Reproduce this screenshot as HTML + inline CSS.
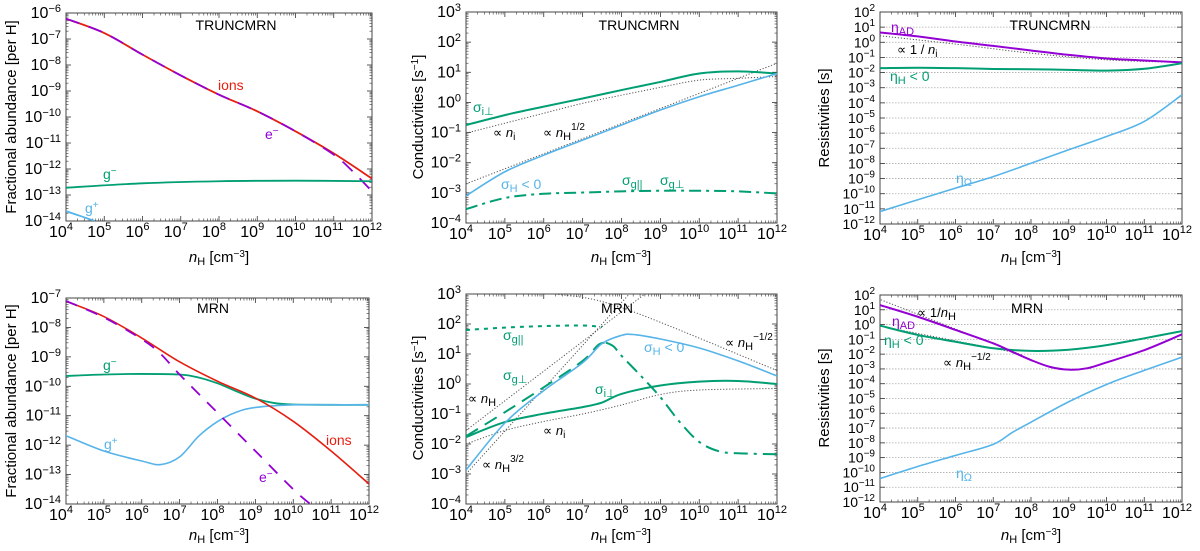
<!DOCTYPE html>
<html><head><meta charset="utf-8">
<style>
html,body{margin:0;padding:0;background:#fff;}
svg{display:block;font-family:"Liberation Sans",sans-serif;}
.t{font-size:16px;fill:#000;}
.lab{font-size:14px;}
.ax{font-size:15px;}
</style></head>
<body>
<svg id="fig" width="1200" height="551" viewBox="0 0 1200 551" xmlns="http://www.w3.org/2000/svg">
<g id="axes"></g>
<g id="curves"></g>
<g id="labels">
  <text class="ax" transform="translate(16,117) rotate(-90)" text-anchor="middle">Fractional abundance [per H]</text>
  <text class="ax" transform="translate(16,401) rotate(-90)" text-anchor="middle">Fractional abundance [per H]</text>
  <text class="ax" transform="translate(423,117) rotate(-90)" text-anchor="middle">Conductivities [s<tspan baseline-shift="super" font-size="10">−1</tspan>]</text>
  <text class="ax" transform="translate(423,398) rotate(-90)" text-anchor="middle">Conductivities [s<tspan baseline-shift="super" font-size="10">−1</tspan>]</text>
  <text class="ax" transform="translate(829,118) rotate(-90)" text-anchor="middle">Resistivities [s]</text>
  <text class="ax" transform="translate(829,398) rotate(-90)" text-anchor="middle">Resistivities [s]</text>
  <g class="ax" text-anchor="middle">
    <text x="219" y="262"><tspan font-style="italic">n</tspan><tspan font-size="11" dy="3">H</tspan><tspan dy="-3"> [cm</tspan><tspan font-size="10" dy="-5">−3</tspan><tspan dy="5">]</tspan></text>
    <text x="621" y="262"><tspan font-style="italic">n</tspan><tspan font-size="11" dy="3">H</tspan><tspan dy="-3"> [cm</tspan><tspan font-size="10" dy="-5">−3</tspan><tspan dy="5">]</tspan></text>
    <text x="1031" y="262"><tspan font-style="italic">n</tspan><tspan font-size="11" dy="3">H</tspan><tspan dy="-3"> [cm</tspan><tspan font-size="10" dy="-5">−3</tspan><tspan dy="5">]</tspan></text>
    <text x="219" y="540"><tspan font-style="italic">n</tspan><tspan font-size="11" dy="3">H</tspan><tspan dy="-3"> [cm</tspan><tspan font-size="10" dy="-5">−3</tspan><tspan dy="5">]</tspan></text>
    <text x="621" y="540"><tspan font-style="italic">n</tspan><tspan font-size="11" dy="3">H</tspan><tspan dy="-3"> [cm</tspan><tspan font-size="10" dy="-5">−3</tspan><tspan dy="5">]</tspan></text>
    <text x="1031" y="540"><tspan font-style="italic">n</tspan><tspan font-size="11" dy="3">H</tspan><tspan dy="-3"> [cm</tspan><tspan font-size="10" dy="-5">−3</tspan><tspan dy="5">]</tspan></text>
  </g>
  <g class="lab" text-anchor="middle">
    <text x="236" y="30">TRUNCMRN</text>
    <text x="639" y="30">TRUNCMRN</text>
    <text x="1050" y="30">TRUNCMRN</text>
    <text x="213" y="313">MRN</text>
    <text x="617" y="313">MRN</text>
    <text x="1027" y="313">MRN</text>
  </g>
  <g class="lab">
    <text x="218" y="90" fill="#e51e10">ions</text>
    <text x="265" y="139" fill="#9400d3">e<tspan font-size="10" dy="-5">−</tspan></text>
    <text x="103" y="179" fill="#009e73">g<tspan font-size="10" dy="-5">−</tspan></text>
    <text x="85" y="213" fill="#56b4e9">g<tspan font-size="10" dy="-5">+</tspan></text>
  </g>
  <g class="lab">
    <text x="103" y="370" fill="#009e73">g<tspan font-size="10" dy="-5">−</tspan></text>
    <text x="104" y="449" fill="#56b4e9">g<tspan font-size="10" dy="-5">+</tspan></text>
    <text x="326" y="445" fill="#e51e10">ions</text>
    <text x="259" y="482" fill="#9400d3">e<tspan font-size="10" dy="-5">−</tspan></text>
  </g>
  <g class="lab">
    <text x="473" y="112" fill="#009e73">σ<tspan font-size="11" dy="3">i⊥</tspan></text>
    <text x="493" y="137" font-size="13">∝ <tspan font-style="italic">n</tspan><tspan font-size="10" dy="3">i</tspan></text>
    <text x="543" y="137" font-size="13">∝ <tspan font-style="italic">n</tspan><tspan font-size="11" dy="3">H</tspan><tspan font-size="10" dy="-10">1/2</tspan></text>
    <text x="501" y="189" fill="#56b4e9">σ<tspan font-size="11" dy="3">H</tspan><tspan dy="-3"> &lt; 0</tspan></text>
    <text x="622" y="185" fill="#009e73">σ<tspan font-size="11" dy="3">g||</tspan></text>
    <text x="660" y="185" fill="#009e73">σ<tspan font-size="11" dy="3">g⊥</tspan></text>
  </g>
  <g class="lab">
    <text x="503" y="340" fill="#009e73">σ<tspan font-size="11" dy="3">g||</tspan></text>
    <text x="503" y="380" fill="#009e73">σ<tspan font-size="11" dy="3">g⊥</tspan></text>
    <text x="644" y="352" fill="#56b4e9">σ<tspan font-size="11" dy="3">H</tspan><tspan dy="-3"> &lt; 0</tspan></text>
    <text x="595" y="394" fill="#009e73">σ<tspan font-size="11" dy="3">i⊥</tspan></text>
    <text x="468" y="403" font-size="13">∝ <tspan font-style="italic">n</tspan><tspan font-size="11" dy="3">H</tspan></text>
    <text x="543" y="435" font-size="13">∝ <tspan font-style="italic">n</tspan><tspan font-size="10" dy="3">i</tspan></text>
    <text x="482" y="469" font-size="13">∝ <tspan font-style="italic">n</tspan><tspan font-size="11" dy="3">H</tspan><tspan font-size="10" dy="-10">3/2</tspan></text>
    <text x="725" y="347" font-size="13">∝ <tspan font-style="italic">n</tspan><tspan font-size="11" dy="3">H</tspan><tspan font-size="10" dy="-10">−1/2</tspan></text>
  </g>
  <g class="lab">
    <text x="891" y="32" fill="#9400d3">η<tspan font-size="11" dy="3">AD</tspan></text>
    <text x="897" y="54" font-size="13">∝ 1 / <tspan font-style="italic">n</tspan><tspan font-size="10" dy="3">i</tspan></text>
    <text x="890" y="81" fill="#009e73">η<tspan font-size="11" dy="3">H</tspan><tspan dy="-3"> &lt; 0</tspan></text>
    <text x="956" y="183" fill="#56b4e9">η<tspan font-size="11" dy="3">Ω</tspan></text>
  </g>
  <g class="lab">
    <text x="917" y="317" font-size="13">∝ 1/<tspan font-style="italic">n</tspan><tspan font-size="11" dy="3">H</tspan></text>
    <text x="892" y="326" fill="#9400d3">η<tspan font-size="11" dy="3">AD</tspan></text>
    <text x="884" y="345" fill="#009e73">η<tspan font-size="11" dy="3">H</tspan><tspan dy="-3"> &lt; 0</tspan></text>
    <text x="943" y="367" font-size="13">∝ <tspan font-style="italic">n</tspan><tspan font-size="11" dy="3">H</tspan><tspan font-size="10" dy="-10">−1/2</tspan></text>
    <text x="956" y="478" fill="#56b4e9">η<tspan font-size="11" dy="3">Ω</tspan></text>
  </g>
</g>
</svg>
<script>
const xDecades = [4,5,6,7,8,9,10,11,12];
// TL: TRUNCMRN abundances (log10)
const tlX = [4,5,6,7,8,9,10,11,12];
const tlIons = [-6.22,-6.77,-7.6,-8.4,-9.14,-9.78,-10.55,-11.4,-12.37];
const tlElecX = [4,5,6,7,8,9,10,11,11.5,12];
const tlElec = [-6.22,-6.77,-7.6,-8.4,-9.14,-9.78,-10.55,-11.45,-12.1,-12.86];
const tlGminusX = [4,6,8,10,12];
const tlGminus = [-12.72,-12.55,-12.47,-12.45,-12.47];
const tlGplusX = [4,4.4,4.75];
const tlGplus = [-13.62,-13.82,-14.0];
// BL: MRN abundances
const blIonsX = [4,5,6,7,8,9,10,11,12];
const blIons = [-7.11,-7.63,-8.36,-9.17,-9.83,-10.4,-11.19,-12.2,-13.32];
const blElecX = [4,5,6,6.5,7,8,9,10,10.45];
const blElec = [-7.1,-7.66,-8.4,-8.9,-9.6,-10.9,-12.2,-13.5,-14.0];
const blGminusX = [4,5,6,7,7.5,8,8.5,9,9.5,10,11,12];
const blGminus = [-9.65,-9.6,-9.58,-9.6,-9.7,-9.9,-10.17,-10.42,-10.57,-10.62,-10.63,-10.63];
const blGplusX = [4,5,6,6.5,7,7.5,8,8.5,9,10,11,12];
const blGplus = [-11.68,-12.2,-12.54,-12.66,-12.4,-11.7,-11.2,-10.88,-10.72,-10.63,-10.63,-10.63];
// TM: TRUNCMRN conductivities
const tmX = [4,5,6,7,8,9,10,11,12];
const tmSigI = [-0.75,-0.42,-0.14,0.13,0.41,0.68,0.96,1.03,0.96];
const tmSigH = [-3.1,-2.3,-1.75,-1.25,-0.75,-0.25,0.19,0.57,0.96];
const tmSigG = [-3.54,-3.17,-3.03,-2.99,-2.95,-2.93,-2.93,-2.95,-3.02];
const tmPropNi = [-1.02,-0.69,-0.36,-0.03,0.24,0.5,0.74,0.8,0.86];
const tmPropHalfX = [4,12];
const tmPropHalf = [-2.7,1.3];
// BM: MRN conductivities
const bmGparX = [4,5,6,7,7.5];
const bmGpar = [1.8,1.88,1.93,1.95,1.9];
const bmGperpX = [4,5,6,7,7.4,7.6];
const bmGperp = [-1.74,-0.94,-0.11,0.77,1.3,1.38];
const bmGddX = [7.6,7.8,8,8.5,9,9.5,10,10.5,11,12];
const bmGdd = [1.38,1.25,0.94,0.27,-0.44,-1.27,-1.93,-2.24,-2.31,-2.34];
const bmSigHX = [4,5,6,7,7.5,8,8.3,9,10,11,12];
const bmSigH = [-2.87,-1.3,-0.22,0.71,1.35,1.62,1.65,1.5,1.2,0.77,0.27];
const bmSigIX = [4,5,6,7,7.5,8,9,10,11,12];
const bmSigI = [-1.77,-1.27,-0.99,-0.77,-0.62,-0.33,-0.05,0.08,0.1,0.0];
const bmPropNiX = [4,5,6,7,8,9,10,12];
const bmPropNi = [-2.0,-1.55,-1.25,-1.0,-0.7,-0.35,-0.2,-0.15];
const bmPropNhX = [4,8.6];
const bmPropNh = [-1.55,3.0];
const bmProp32X = [4,8.2];
const bmProp32 = [-3.0,3.0];
const bmPropMhX = [6.3,8,12];
const bmPropMh = [3.0,2.55,0.45];
// TR: TRUNCMRN resistivities
const trX = [4,5,6,7,8,9,10,11,12];
const trEtaAD = [0.65,0.39,0.05,-0.24,-0.54,-0.83,-1.07,-1.2,-1.33];
const trEtaH = [-1.71,-1.68,-1.71,-1.76,-1.78,-1.82,-1.87,-1.75,-1.38];
const trEtaO = [-11.18,-10.4,-9.63,-8.87,-7.99,-7.1,-6.22,-5.23,-3.47];
const trPropX = [4,6,8,10,12];
const trProp = [0.43,-0.12,-0.72,-1.16,-1.33];
// BR: MRN resistivities
const brADX = [4,5,6,7,7.5,8,8.5,9,9.5,10,11,12];
const brEtaAD = [1.32,0.53,-0.36,-1.27,-1.84,-2.4,-2.86,-3.05,-2.95,-2.56,-1.73,-0.66];
const brX = [4,5,6,7,8,9,10,11,12];
const brEtaH = [-0.07,-0.7,-1.16,-1.6,-1.78,-1.7,-1.39,-0.93,-0.44];
const brOX = [4,5,6,7,7.5,8,9,10,11,12];
const brEtaO = [-10.41,-9.6,-8.85,-8.1,-7.3,-6.6,-5.22,-4.05,-3.1,-2.2];
const brPropInvX = [3.95,7.8];
const brPropInv = [1.75,-2.1];
const brPropHalfX = [4,7.5];
const brPropHalf = [-0.1,-1.85];

const NS = "http://www.w3.org/2000/svg";
const axesG = document.getElementById('axes');
const curvesG = document.getElementById('curves');

const panels = {
  tl:{x0:66,x1:372,y0:13,y1:221,ymin:-14,ymax:-6,grid:false,fs:16,ss:11},
  tm:{x0:466,x1:777,y0:12,y1:223,ymin:-4,ymax:3,grid:false,fs:16,ss:11},
  tr:{x0:880,x1:1182,y0:12,y1:224,ymin:-12,ymax:2,grid:true,fs:14,ss:10},
  bl:{x0:66,x1:369,y0:298,y1:504,ymin:-14,ymax:-7,grid:false,fs:16,ss:11},
  bm:{x0:466,x1:777,y0:294,y1:504,ymin:-4,ymax:3,grid:false,fs:16,ss:11},
  br:{x0:880,x1:1182,y0:295,y1:502,ymin:-12,ymax:2,grid:true,fs:14,ss:10}
};
function sx(p,v){return p.x0+(v-4)/8*(p.x1-p.x0);}
function sy(p,v){return p.y1-(v-p.ymin)/(p.ymax-p.ymin)*(p.y1-p.y0);}
function el(tag,attrs,parent){const e=document.createElementNS(NS,tag);for(const k in attrs)e.setAttribute(k,attrs[k]);parent.appendChild(e);return e;}
function fmtExp(v){return (v<0?'−':'')+Math.abs(v);}

for(const key in panels){
  const p=panels[key];
  const g=el('g',{},axesG);
  
  
  if(p.grid){
    for(let v=p.ymin+1;v<p.ymax;v++){
      const ln=el('line',{x1:p.x0,x2:p.x1,y1:sy(p,v),y2:sy(p,v),stroke:'#aaa','stroke-width':0.8,'stroke-dasharray':'1.5,1.5'},g);
      
      
    }
  }
  for(const d of xDecades){
    const x=sx(p,d);
    el('line',{x1:x,x2:x,y1:p.y1,y2:p.y1-5,stroke:'#333','stroke-width':0.8},g);
    el('line',{x1:x,x2:x,y1:p.y0,y2:p.y0+5,stroke:'#333','stroke-width':0.8},g);
    if(d<12){for(let m=2;m<10;m++){const xm=sx(p,d+Math.log10(m));
      el('line',{x1:xm,x2:xm,y1:p.y1,y2:p.y1-2.5,stroke:'#333','stroke-width':0.6},g);
      el('line',{x1:xm,x2:xm,y1:p.y0,y2:p.y0+2.5,stroke:'#333','stroke-width':0.6},g);}}
    const t=el('text',{x:x-5,y:p.y1+16,'text-anchor':'middle','class':'t'},g);
    
    
    t.textContent='10';
    const s=el('tspan',{'font-size':11,dy:-7},t);s.textContent=fmtExp(d);
  }
  const step=(p.ymax-p.ymin);
  for(let v=p.ymin;v<=p.ymax;v++){
    const y=sy(p,v);
    el('line',{x1:p.x0,x2:p.x0+5,y1:y,y2:y,stroke:'#333','stroke-width':0.8},g);
    el('line',{x1:p.x1,x2:p.x1-5,y1:y,y2:y,stroke:'#333','stroke-width':0.8},g);
    if(v<p.ymax && step<10){for(let m=2;m<10;m++){const ym=sy(p,v+Math.log10(m));
      el('line',{x1:p.x0,x2:p.x0+2.5,y1:ym,y2:ym,stroke:'#333','stroke-width':0.6},g);
      el('line',{x1:p.x1,x2:p.x1-2.5,y1:ym,y2:ym,stroke:'#333','stroke-width':0.6},g);}}
    const t=el('text',{x:p.x0-5,y:y+5,'text-anchor':'end','class':'t','font-size':p.fs,style:'font-size:'+p.fs+'px'},g);
    
    
    t.textContent='10';
    const s=el('tspan',{'font-size':p.ss,dy:-6},t);s.textContent=fmtExp(v);
  }
  const fr=el('rect',{x:p.x0,y:p.y0,width:p.x1-p.x0,height:p.y1-p.y0,fill:'none',stroke:'#444','stroke-width':1},g);
  
  
}

const defs=el('defs',{},document.getElementById('fig'));
for(const key in panels){const p=panels[key];
  const c=el('clipPath',{id:'clip-'+key},defs);
  el('rect',{x:p.x0,y:p.y0,width:p.x1-p.x0,height:p.y1-p.y0},c);}

function curve(key,xs,ys,color,width,dash,name){
  const p=panels[key];
  const pts=xs.map((x,i)=>[sx(p,x),sy(p,ys[i])]);
  let d='M'+pts[0][0].toFixed(2)+','+pts[0][1].toFixed(2);
  for(let i=0;i<pts.length-1;i++){
    const p0=pts[Math.max(0,i-1)],p1=pts[i],p2=pts[i+1],p3=pts[Math.min(pts.length-1,i+2)];
    const c1=[p1[0]+(p2[0]-p0[0])/6,p1[1]+(p2[1]-p0[1])/6];
    const c2=[p2[0]-(p3[0]-p1[0])/6,p2[1]-(p3[1]-p1[1])/6];
    d+=' C'+c1[0].toFixed(2)+','+c1[1].toFixed(2)+' '+c2[0].toFixed(2)+','+c2[1].toFixed(2)+' '+p2[0].toFixed(2)+','+p2[1].toFixed(2);
  }
  const a={d:d,fill:'none',stroke:color,'stroke-width':width,'stroke-linejoin':'round'};
  if(dash)a['stroke-dasharray']=dash;
  a['clip-path']='url(#clip-'+key+')';
  const e=el('path',a,curvesG);
  
  
}

const RED='#e51e10',PUR='#9400d3',GRN='#009e73',BLU='#56b4e9',DOT='#555';
const DT='1.2,1.8';
curve('tl',tlX,tlIons,RED,1.8,null,'ions-curve-tl');
curve('tl',tlElecX,tlElec,PUR,1.8,'14,10','electrons-curve-tl');
curve('tl',tlGminusX,tlGminus,GRN,1.8,null,'gminus-curve-tl');
curve('tl',tlGplusX,tlGplus,BLU,1.8,null,'gplus-curve-tl');
curve('bl',blGminusX,blGminus,GRN,1.8,null,'gminus-curve-bl');
curve('bl',blGplusX,blGplus,BLU,1.6,null,'gplus-curve-bl');
curve('bl',blIonsX,blIons,RED,1.6,null,'ions-curve-bl');
curve('bl',blElecX,blElec,PUR,1.8,'12,10','electrons-curve-bl');
curve('tm',tmX,tmPropNi,DOT,1,DT,'prop-ni-line-tm');
curve('tm',tmPropHalfX,tmPropHalf,DOT,1,DT,'prop-nh-half-line-tm');
curve('tm',tmX,tmSigI,GRN,2,null,'sigma-i-perp-curve-tm');
curve('tm',tmX,tmSigH,BLU,1.6,null,'sigma-h-curve-tm');
curve('tm',tmX,tmSigG,GRN,2,'12,5,3,5','sigma-g-curve-tm');
curve('bm',bmPropNiX,bmPropNi,DOT,1,DT,'prop-ni-line-bm');
curve('bm',bmPropNhX,bmPropNh,DOT,1,DT,'prop-nh-line-bm');
curve('bm',bmProp32X,bmProp32,DOT,1,DT,'prop-nh-3half-line-bm');
curve('bm',bmPropMhX,bmPropMh,DOT,1,DT,'prop-nh-mhalf-line-bm');
curve('bm',bmGparX,bmGpar,GRN,2,'4,5','sigma-g-par-curve-bm');
curve('bm',bmGperpX,bmGperp,GRN,2,'14,8','sigma-g-perp-curve-bm');
curve('bm',bmGddX,bmGdd,GRN,2,'14,6,3,6','sigma-g-dashdot-curve-bm');
curve('bm',bmSigIX,bmSigI,GRN,2,null,'sigma-i-perp-curve-bm');
curve('bm',bmSigHX,bmSigH,BLU,1.6,null,'sigma-h-curve-bm');
curve('tr',trPropX,trProp,DOT,1,DT,'prop-inv-ni-line-tr');
curve('tr',trX,trEtaAD,PUR,2,null,'eta-ad-curve-tr');
curve('tr',trX,trEtaH,GRN,2,null,'eta-h-curve-tr');
curve('tr',trX,trEtaO,BLU,1.6,null,'eta-ohm-curve-tr');
curve('br',brPropInvX,brPropInv,DOT,1,DT,'prop-inv-nh-line-br');
curve('br',brPropHalfX,brPropHalf,DOT,1,DT,'prop-nh-mhalf-line-br');
curve('br',brX,brEtaH,GRN,2,null,'eta-h-curve-br');
curve('br',brADX,brEtaAD,PUR,2,null,'eta-ad-curve-br');
curve('br',brOX,brEtaO,BLU,1.6,null,'eta-ohm-curve-br');
</script>
</body></html>
